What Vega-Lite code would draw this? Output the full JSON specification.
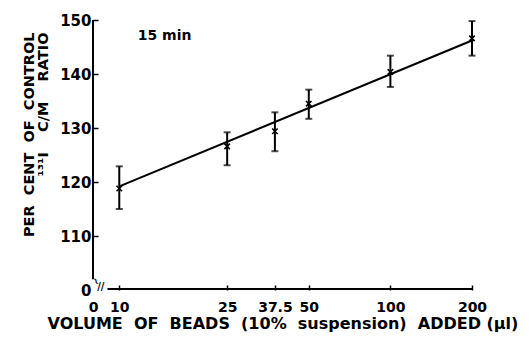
{
  "$schema": "https://vega.github.io/schema/vega-lite/v6.json",
  "width": 379,
  "height": 270,
  "autosize": {"type": "none"},
  "padding": {"left": 93, "top": 20, "right": 58, "bottom": 49},
  "background": "white",
  "config": {
    "view": {"stroke": null},
    "font": "DejaVu Sans",
    "axis": {
      "domain": false,
      "grid": false,
      "labelFlush": false,
      "tickColor": "black",
      "tickWidth": 1.5,
      "tickSize": -5,
      "labelFont": "DejaVu Sans",
      "labelFontWeight": "bold",
      "labelFontSize": 15,
      "labelColor": "black",
      "titleFont": "DejaVu Sans",
      "titleFontWeight": "bold",
      "titleColor": "black"
    }
  },
  "datasets": {
    "obs": [
      {"vol": 10, "pct": 118.8, "lo": 115.0, "hi": 122.9},
      {"vol": 25, "pct": 126.6, "lo": 123.1, "hi": 129.2},
      {"vol": 37.5, "pct": 129.4, "lo": 125.7, "hi": 132.9},
      {"vol": 50, "pct": 134.5, "lo": 131.7, "hi": 137.1},
      {"vol": 100, "pct": 140.4, "lo": 137.6, "hi": 143.4},
      {"vol": 200, "pct": 146.6, "lo": 143.4, "hi": 149.8}
    ],
    "fit": [
      {"vol": 10, "pct": 119.2},
      {"vol": 200, "pct": 146.2}
    ],
    "one": [{}]
  },
  "layer": [
    {
      "data": {"name": "obs"},
      "mark": {"type": "rule", "color": "black", "strokeWidth": 2},
      "encoding": {
        "x": {
          "field": "vol", "type": "quantitative",
          "scale": {"type": "log", "domain": [8, 200], "nice": false},
          "axis": {
            "values": [8, 10, 25, 37.5, 50, 100, 200],
            "labelExpr": "datum.value == 8 ? '0' : '' + datum.value",
            "tickOpacity": {"condition": {"test": "datum.value == 8", "value": 0}, "value": 1},
            "labelFontSize": 14,
            "labelPadding": 15,
            "title": "VOLUME\u00a0 OF\u00a0 BEADS\u00a0 (10%\u00a0 suspension)\u00a0 ADDED (μl)",
            "titleFontSize": 16,
            "titleBaseline": "alphabetic",
            "titleY": 38
          }
        },
        "y": {
          "field": "lo", "type": "quantitative",
          "scale": {"domain": [100, 150], "nice": false, "zero": false},
          "axis": {
            "values": [100, 110, 120, 130, 140, 150],
            "labelExpr": "datum.value == 100 ? '0' : datum.label",
            "tickOpacity": {"condition": {"test": "datum.value == 100", "value": 0}, "value": 1},
            "labelPadding": 7,
            "title": ["PER\u00a0 CENT\u00a0 OF\u00a0 CONTROL", "¹³¹I\u00a0\u00a0\u00a0 C/M\u00a0\u00a0\u00a0 RATIO"],
            "titleFontSize": 14.5,
            "titleAngle": -90,
            "titleAlign": "right",
            "titleAnchor": "end",
            "titleBaseline": "alphabetic",
            "titleX": -60,
            "titleY": 12,
            "titleLineHeight": 14
          }
        },
        "y2": {"field": "hi"}
      }
    },
    {
      "data": {"name": "obs"},
      "mark": {"type": "tick", "orient": "horizontal", "color": "black", "size": 7, "thickness": 2},
      "encoding": {
        "x": {"field": "vol", "type": "quantitative"},
        "y": {"field": "lo", "type": "quantitative"}
      }
    },
    {
      "data": {"name": "obs"},
      "mark": {"type": "tick", "orient": "horizontal", "color": "black", "size": 7, "thickness": 2},
      "encoding": {
        "x": {"field": "vol", "type": "quantitative"},
        "y": {"field": "hi", "type": "quantitative"}
      }
    },
    {
      "data": {"name": "fit"},
      "mark": {"type": "line", "color": "black", "strokeWidth": 2},
      "encoding": {
        "x": {"field": "vol", "type": "quantitative"},
        "y": {"field": "pct", "type": "quantitative"}
      }
    },
    {
      "data": {"name": "obs"},
      "mark": {"type": "point", "shape": "M-1,-1L1,1M-1,1L1,-1", "filled": false, "color": "black", "strokeWidth": 1.6, "size": 30, "opacity": 1},
      "encoding": {
        "x": {"field": "vol", "type": "quantitative"},
        "y": {"field": "pct", "type": "quantitative"}
      }
    },
    {
      "data": {"name": "one"},
      "mark": {"type": "rule", "color": "black", "strokeWidth": 2},
      "encoding": {
        "x": {"datum": 8},
        "y": {"datum": 102},
        "y2": {"datum": 150}
      }
    },
    {
      "data": {"name": "one"},
      "mark": {"type": "rule", "color": "black", "strokeWidth": 2},
      "encoding": {
        "x": {"datum": 9.05},
        "x2": {"datum": 200},
        "y": {"datum": 100.2}
      }
    },
    {
      "data": {"name": "one"},
      "mark": {"type": "text", "text": "//", "font": "DejaVu Sans", "fontWeight": "bold", "fontSize": 10, "color": "black", "align": "center", "baseline": "middle"},
      "encoding": {
        "x": {"datum": 8.55},
        "y": {"datum": 100.6}
      }
    },
    {
      "data": {"name": "one"},
      "mark": {"type": "text", "text": "~", "font": "DejaVu Sans", "fontWeight": "bold", "fontSize": 10, "color": "black", "align": "center", "baseline": "middle", "angle": 60},
      "encoding": {
        "x": {"datum": 8.2},
        "y": {"datum": 101.6}
      }
    },
    {
      "data": {"name": "one"},
      "mark": {"type": "text", "text": "15 min", "font": "DejaVu Sans", "fontWeight": "bold", "fontSize": 14, "color": "black", "align": "left", "baseline": "middle"},
      "encoding": {
        "x": {"datum": 11.7},
        "y": {"datum": 147.1}
      }
    }
  ]
}
